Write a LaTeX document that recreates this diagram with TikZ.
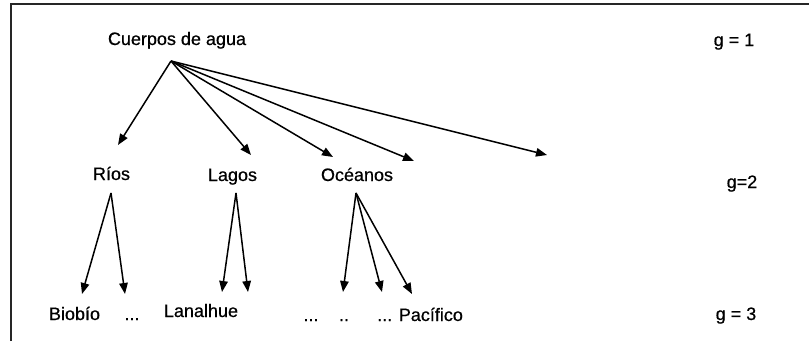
\documentclass[tikz,border=0pt]{standalone}
\usepackage{fontspec}
\setmainfont{Liberation Sans}[FakeBold=0.6]
\usetikzlibrary{arrows.meta}
\begin{document}
\begin{tikzpicture}[x=1pt,y=-1pt,
  lbl/.style={inner sep=0pt,anchor=base,font=\fontsize{18}{18}\selectfont},
  edge/.style={line width=1.5pt,-{Triangle[length=11pt,width=8.5pt]}},
  frame/.style={line width=1.5pt,draw=black!85}]
\useasboundingbox (0,0) rectangle (809,341);
% frame on the left and top
\draw[frame] (11,341) -- (11,4) -- (809,4);

% level labels
\node[lbl] (g1) at (734,46) {g = 1};
\node[lbl] (g2) at (742,188) {g=2};
\node[lbl] (g3) at (736,320) {g = 3};

% root
\node[lbl] (cuerpos) at (177,45) {Cuerpos de agua};
\coordinate (root) at (171,61);

% second level
\node[lbl] (rios) at (111.5,180) {Ríos};
\node[lbl] (lagos) at (232.5,181) {Lagos};
\node[lbl] (oceanos) at (357,181) {Océanos};
\coordinate (riosIn) at (118,145);
\coordinate (lagosIn) at (251,155);
\coordinate (oceanosIn) at (333,157);
\coordinate (otroA) at (414,161);
\coordinate (otroB) at (547,155);
\coordinate (riosOut) at (111,193);
\coordinate (lagosOut) at (236,193);
\coordinate (oceanosOut) at (356,193);

% third level
\node[lbl] (biobio) at (74.5,320) {Biobío};
\node[lbl] (riosDots) at (132,320) {...};
\node[lbl] (lanalhue) at (201,317) {Lanalhue};
\node[lbl] (dotsA) at (311,321) {...};
\node[lbl] (dotsB) at (344,321) {..};
\node[lbl,anchor=base west] (pacifico) at (377,321) {... Pacífico};
\coordinate (biobioIn) at (82,294);
\coordinate (riosDotsIn) at (125,294);
\coordinate (lanalhueIn) at (222,292);
\coordinate (lagosDotsIn) at (248,292);
\coordinate (dotsAIn) at (343,292);
\coordinate (dotsBIn) at (382,292);
\coordinate (pacificoIn) at (412,294);

% connectors
\foreach \t in {riosIn,lagosIn,oceanosIn,otroA,otroB}
  \draw[edge] (root) -- (\t);
\draw[edge] (riosOut) -- (biobioIn);
\draw[edge] (riosOut) -- (riosDotsIn);
\draw[edge] (lagosOut) -- (lanalhueIn);
\draw[edge] (lagosOut) -- (lagosDotsIn);
\draw[edge] (oceanosOut) -- (dotsAIn);
\draw[edge] (oceanosOut) -- (dotsBIn);
\draw[edge] (oceanosOut) -- (pacificoIn);
\end{tikzpicture}
\end{document}
